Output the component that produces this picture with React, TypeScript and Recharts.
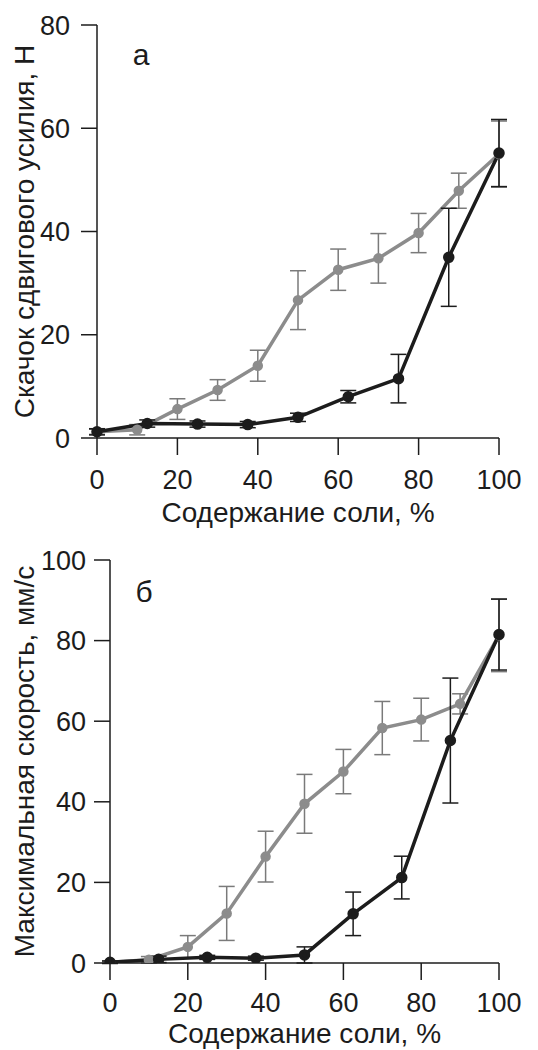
import { LineChart, Line, XAxis, YAxis, ErrorBar } from "recharts";

// salt content, %
const saltGray = [0, 10, 20, 30, 40, 50, 60, 70, 80, 90, 100];
const saltBlack = [0, 12.5, 25, 37.5, 50, 62.5, 75, 87.5, 100];
const xTicks = [0, 20, 40, 60, 80, 100];

// panel a: shear force jump, N
const jumpGray = [1.2, 1.6, 5.6, 9.3, 14.0, 26.7, 32.6, 34.8, 39.7, 47.9, 55.0];
const jumpGrayErr = [0.5, 1.0, 2.0, 2.0, 3.0, 5.7, 4.0, 4.8, 3.8, 3.4, 6.4];
const jumpBlack = [1.2, 2.8, 2.7, 2.6, 4.0, 8.0, 11.5, 35.0, 55.2];
const jumpBlackErr = [0.6, 0.7, 0.6, 0.6, 0.8, 1.2, 4.7, 9.5, 6.5];
const jumpTicks = [0, 20, 40, 60, 80];

// panel b: max velocity, mm/s
const speedGray = [0.2, 0.8, 4.0, 12.3, 26.4, 39.5, 47.5, 58.3, 60.4, 64.3, 81.3];
const speedGrayErr = [0.3, 0.8, 2.8, 6.7, 6.3, 7.3, 5.5, 6.6, 5.3, 2.5, 9.0];
const speedBlack = [0.2, 0.9, 1.4, 1.2, 2.0, 12.2, 21.2, 55.2, 81.5];
const speedBlackErr = [0.3, 0.8, 0.5, 0.5, 2.0, 5.4, 5.3, 15.5, 8.8];
const speedTicks = [0, 20, 40, 60, 80, 100];

const FONT = "'Liberation Sans', Arial, sans-serif";
const INK = "#1c1c1c";
const GRAY = "#8c8c8c";

const rows = (xs: number[], ys: number[], errs: number[]) =>
  xs.map((x, i) => ({ x, y: ys[i], err: errs[i] }));

type PanelProps = {
  top: number;
  height: number;
  marginTop: number;
  yWidth: number;
  xHeight: number;
  xTickMargin: number;
  yTickMargin: number;
  titleOffset: number;
  yMax: number;
  yTicks: number[];
  yLabel: string;
  letter: string;
  letterX: number;
  letterY: number;
  gray: { x: number; y: number; err: number }[];
  black: { x: number; y: number; err: number }[];
};

const Panel = (p: PanelProps) => {
  const axisStyle = { stroke: INK, strokeWidth: 1.5 };
  const tickStyle = { fill: INK, fontSize: 27, fontFamily: FONT };
  return (
    <div style={{ position: "absolute", left: 0, top: p.top, width: 538, height: p.height }}>
      <LineChart
        width={538}
        height={p.height}
        margin={{ top: p.marginTop, right: 39, bottom: 0, left: 0 }}
      >
        <XAxis
          type="number"
          dataKey="x"
          domain={[0, 100]}
          ticks={xTicks}
          interval={0}
          height={p.xHeight}
          tickSize={17}
          tickMargin={p.xTickMargin}
          axisLine={axisStyle}
          tickLine={axisStyle}
          tick={tickStyle}
          label={{
            value: "Содержание соли, %",
            position: "insideBottom",
            offset: p.titleOffset,
            style: { fill: INK, fontSize: 28, fontFamily: FONT },
          }}
        />
        <YAxis
          type="number"
          domain={[0, p.yMax]}
          ticks={p.yTicks}
          interval={0}
          allowDataOverflow
          width={p.yWidth}
          tickSize={16}
          tickMargin={p.yTickMargin}
          axisLine={axisStyle}
          tickLine={axisStyle}
          tick={tickStyle}
          label={{
            value: p.yLabel,
            angle: -90,
            position: "insideLeft",
            offset: 24,
            style: { fill: INK, fontSize: 28, fontFamily: FONT, textAnchor: "middle" },
          }}
        />
        <Line
          data={p.gray}
          dataKey="y"
          stroke={GRAY}
          strokeWidth={3.5}
          dot={{ r: 3.5, fill: GRAY, stroke: GRAY }}
          isAnimationActive={false}
        >
          <ErrorBar dataKey="err" direction="y" width={8} stroke="#7a7a7a" strokeWidth={1.5} />
        </Line>
        <Line
          data={p.black}
          dataKey="y"
          stroke={INK}
          strokeWidth={3.5}
          dot={{ r: 4, fill: INK, stroke: INK }}
          isAnimationActive={false}
        >
          <ErrorBar dataKey="err" direction="y" width={8} stroke={INK} strokeWidth={1.5} />
        </Line>
      </LineChart>
      <svg
        width={538}
        height={p.height}
        style={{ position: "absolute", left: 0, top: 0, pointerEvents: "none" }}
      >
        <text x={p.letterX} y={p.letterY} fontSize={30} fontFamily={FONT} fill={INK} textAnchor="middle">
          {p.letter}
        </text>
      </svg>
    </div>
  );
};

export default function App() {
  return (
    <div
      style={{ position: "absolute", left: 0, top: 0, width: 538, height: 1050, background: "#fff" }}
    >
      <Panel
        top={0}
        height={530}
        marginTop={25}
        yWidth={97}
        xHeight={92}
        xTickMargin={15}
        yTickMargin={11}
        titleOffset={8}
        yMax={80}
        yTicks={jumpTicks}
        yLabel="Скачок сдвигового усилия, Н"
        letter="а"
        letterX={141}
        letterY={65}
        gray={rows(saltGray, jumpGray, jumpGrayErr)}
        black={rows(saltBlack, jumpBlack, jumpBlackErr)}
      />
      <Panel
        top={530}
        height={520}
        marginTop={30}
        yWidth={110}
        xHeight={87}
        xTickMargin={13}
        yTickMargin={8}
        titleOffset={7}
        yMax={100}
        yTicks={speedTicks}
        yLabel="Максимальная скорость, мм/с"
        letter="б"
        letterX={144}
        letterY={72}
        gray={rows(saltGray, speedGray, speedGrayErr)}
        black={rows(saltBlack, speedBlack, speedBlackErr)}
      />
    </div>
  );
}
